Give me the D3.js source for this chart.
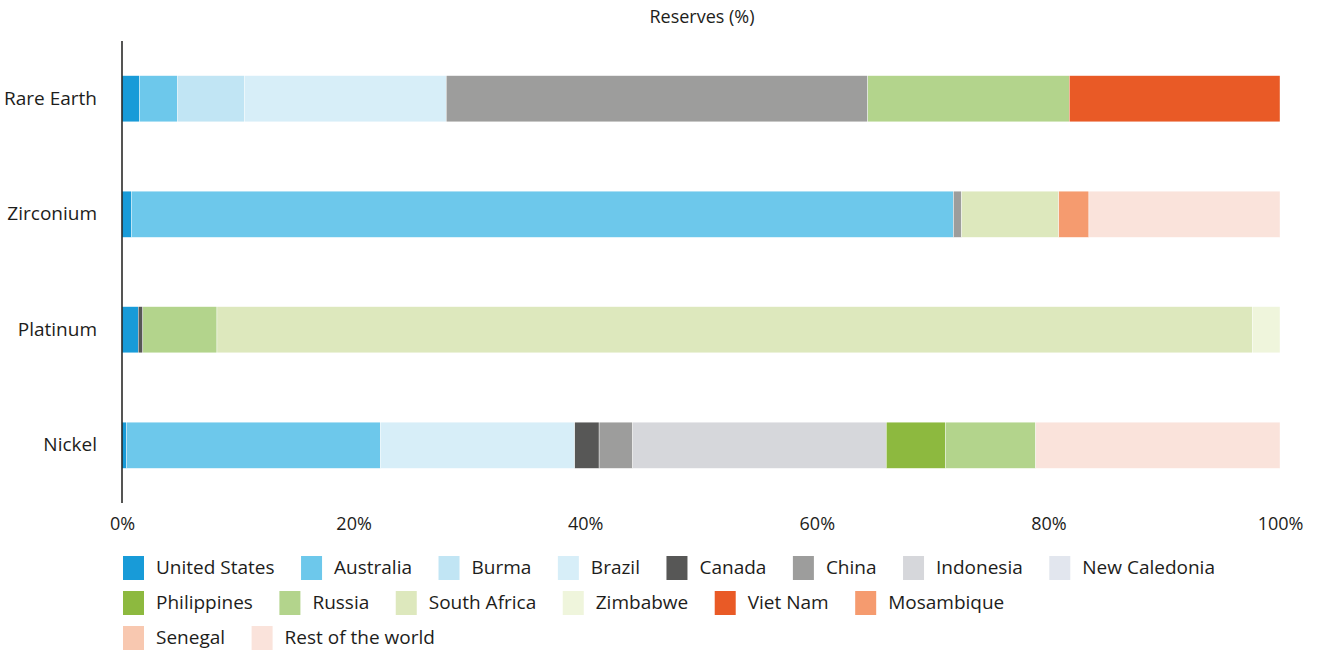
<!DOCTYPE html>
<html>
<head>
<meta charset="utf-8">
<script src="https://cdn.jsdelivr.net/npm/d3@7/dist/d3.min.js"></script>
<style>
  html, body { margin: 0; padding: 0; background: #fff; }
  svg { display: block; font-family: "Open Sans", "Noto Sans", sans-serif; }
</style>
</head>
<body>
<svg id="chart" width="1325" height="651"></svg>
<script>
// Minerals shown as bars (top to bottom)
const minerals = ["Rare Earth", "Zirconium", "Platinum", "Nickel"];

// Countries in stacking order
const countries = ["United States", "Australia", "Burma", "Brazil", "Canada", "China",
  "Indonesia", "New Caledonia", "Philippines", "Russia", "South Africa", "Zimbabwe",
  "Viet Nam", "Mosambique", "Senegal", "Rest of the world"];

// Share of reserves (%) per country, in the order of `minerals`
const unitedStates  = [1.5, 0.8, 1.4, 0.4];
const australia     = [3.3, 71.0, 0, 21.9];
const burma         = [5.8, 0, 0, 0];
const brazil        = [17.4, 0, 0, 16.8];
const canada        = [0, 0, 0.4, 2.1];
const china         = [36.4, 0.7, 0, 2.9];
const indonesia     = [0, 0, 0, 21.9];
const newCaledonia  = [0, 0, 0, 0];
const philippines   = [0, 0, 0, 5.1];
const russia        = [17.4, 0, 6.4, 7.8];
const southAfrica   = [0, 8.4, 89.4, 0];
const zimbabwe      = [0, 0, 2.4, 0];
const vietNam       = [18.2, 0, 0, 0];
const mosambique    = [0, 2.6, 0, 0];
const senegal       = [0, 0, 0, 0];
const restOfWorld   = [0, 16.5, 0, 21.1];

const seriesValues = [unitedStates, australia, burma, brazil, canada, china, indonesia,
  newCaledonia, philippines, russia, southAfrica, zimbabwe, vietNam, mosambique, senegal, restOfWorld];

const colors = ["#189bd8", "#6dc8eb", "#c1e5f4", "#d7eef8", "#575756", "#9d9d9c",
  "#d6d7db", "#e2e6ee", "#8db93f", "#b3d48c", "#dde8bd", "#eff5dc",
  "#e95a26", "#f59b6f", "#f8c8b0", "#fae3db"];

const xTicks = [0, 20, 40, 60, 80, 100];
const xTickLabels = ["0%", "20%", "40%", "60%", "80%", "100%"];

// Legend row breaks (number of entries per row)
const legendRows = [8, 6, 2];

// Build table for stacking
const table = minerals.map((m, i) => {
  const row = { mineral: m };
  countries.forEach((c, j) => { row[c] = seriesValues[j][i]; });
  return row;
});

const svg = d3.select("#chart");
const margin = { left: 122, right: 45, top: 41, bottom: 148 };
const W = 1325, H = 651;
const FONT = "\"Open Sans\", \"Noto Sans\", sans-serif";
const INK = "#1d1d1b";

const x = d3.scaleLinear().domain([0, 100]).range([margin.left, W - margin.right]);
const y = d3.scaleBand().domain(minerals).range([margin.top, H - margin.bottom])
  .paddingInner(0.6).paddingOuter(0.3);
const color = d3.scaleOrdinal().domain(countries).range(colors);

const stacked = d3.stack().keys(countries)(table);

// Axis title
svg.append("text")
  .attr("x", 702).attr("y", 23)
  .attr("text-anchor", "middle")
  .attr("font-size", 18).attr("fill", INK)
  .text("Reserves (%)");

// Stacked bars
svg.append("g").selectAll("g")
  .data(stacked)
  .join("g")
  .attr("fill", d => color(d.key))
  .selectAll("rect")
  .data(d => d.filter(s => s[1] - s[0] > 0))
  .join("rect")
  .attr("x", d => x(d[0]))
  .attr("width", d => x(d[1]) - x(d[0]))
  .attr("y", d => y(d.data.mineral))
  .attr("height", y.bandwidth())
  .attr("stroke", "#ffffff")
  .attr("stroke-width", 0.4);

// X axis labels
const xAxis = d3.axisBottom(x).tickValues(xTicks)
  .tickFormat((d, i) => xTickLabels[i]).tickSize(0).tickPadding(0);
const gx = svg.append("g").attr("transform", `translate(0, ${H - margin.bottom + 14})`).call(xAxis);
gx.select(".domain").remove();
gx.selectAll("text").attr("font-size", 18).attr("fill", INK).attr("font-family", FONT);

// Y axis with category labels
const yAxis = d3.axisLeft(y).tickSize(0).tickPadding(25);
const gy = svg.append("g").attr("transform", `translate(${margin.left}, 0)`).call(yAxis);
gy.select(".domain").attr("stroke", INK).attr("stroke-width", 1.5)
  .attr("d", `M0,${margin.top}V${H - margin.bottom}`);
gy.selectAll("text").attr("font-size", 19).attr("fill", INK).attr("font-family", FONT);

// Legend (flow layout by rows)
const legend = svg.append("g");
let idx = 0;
legendRows.forEach((count, r) => {
  let cx = 123;
  const rowY = 556 + r * 35;
  for (let k = 0; k < count; k++, idx++) {
    const name = countries[idx];
    const item = legend.append("g").attr("transform", `translate(${cx}, ${rowY})`);
    item.append("rect").attr("width", 21).attr("height", 24).attr("fill", color(name));
    const t = item.append("text").attr("x", 33).attr("y", 18)
      .attr("font-size", 19).attr("fill", INK).text(name);
    cx += 33 + t.node().getComputedTextLength() + 26.5;
  }
});
</script>
</body>
</html>
